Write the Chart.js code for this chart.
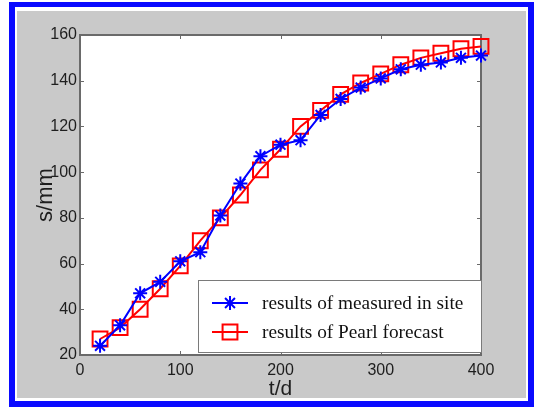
<!DOCTYPE html>
<html><head><meta charset="utf-8">
<script src="https://cdn.jsdelivr.net/npm/chart.js@4.4.1/dist/chart.umd.min.js"></script>
<style>html,body{margin:0;padding:0;background:#fff;overflow:hidden}canvas{display:block}</style>
</head><body>
<canvas id="c" width="534" height="407"></canvas>
<script>
const days = [20,40,60,80,100,120,140,160,180,200,220,240,260,280,300,320,340,360,380,400];
const measured = [24,33,47,52,61,65,81,95,107,112,114,125,132,137,141,145,147,148,150,151];
const pearl = [27,32,40,49,59,70,80,90,101,110,120,127,134,139,143,147,150,152,154,155];
const xTicks = [0,100,200,300,400];
const yTicks = [20,40,60,80,100,120,140,160];
const seriesNames = ['results of measured in site','results of Pearl forecast'];
const xTitle = 't/d';
const yTitle = 's/mm';

const AXIS = '#6a6a6a';
const TXT = '#1e1e1e';

const framePlugin = {
  id: 'frame',
  beforeDraw(chart) {
    const ctx = chart.ctx;
    ctx.save();
    ctx.fillStyle = '#ffffff';
    ctx.fillRect(0, 0, 534, 407);
    ctx.fillStyle = '#0a0aff';
    ctx.fillRect(9, 2, 525, 405);
    ctx.fillStyle = '#ffffff';
    ctx.fillRect(15, 7, 513, 394);
    ctx.fillStyle = '#c9c9c9';
    ctx.fillRect(17, 11, 509, 387);
    const a = chart.chartArea;
    ctx.fillStyle = '#ffffff';
    ctx.fillRect(a.left, a.top, a.right - a.left, a.bottom - a.top);
    ctx.restore();
  },
  beforeDatasetsDraw(chart) {
    const ctx = chart.ctx, a = chart.chartArea;
    const xs = chart.scales.x, ys = chart.scales.y;
    ctx.save();
    ctx.strokeStyle = AXIS;
    ctx.lineWidth = 1;
    ctx.beginPath();
    xTicks.forEach(v => {
      const p = Math.round(xs.getPixelForValue(v)) + 0.5;
      ctx.moveTo(p, a.bottom); ctx.lineTo(p, a.bottom - 4);
      ctx.moveTo(p, a.top); ctx.lineTo(p, a.top + 4);
    });
    yTicks.forEach(v => {
      const p = Math.round(ys.getPixelForValue(v)) + 0.5;
      ctx.moveTo(a.left, p); ctx.lineTo(a.left + 4, p);
      ctx.moveTo(a.right, p); ctx.lineTo(a.right - 4, p);
    });
    ctx.stroke();
    ctx.lineWidth = 2;
    ctx.strokeRect(a.left, a.top, a.right - a.left, a.bottom - a.top);
    ctx.restore();
  },
  afterDatasetsDraw(chart) {
    const ctx = chart.ctx;
    const bx = 198, by = 280, bw = 283, bh = 72;
    ctx.save();
    ctx.fillStyle = '#ffffff';
    ctx.fillRect(bx, by, bw, bh);
    ctx.strokeStyle = '#7a7a7a';
    ctx.lineWidth = 1;
    ctx.strokeRect(bx + 0.5, by + 0.5, bw, bh);
    const rows = [303, 332];
    chart.data.datasets.forEach((ds, i) => {
      const y = rows[i];
      ctx.strokeStyle = ds.borderColor;
      ctx.lineWidth = 2;
      ctx.beginPath();
      ctx.moveTo(212, y); ctx.lineTo(248, y);
      ctx.stroke();
      ctx.fillStyle = ds.pointBackgroundColor;
      ctx.strokeStyle = ds.borderColor;
      Chart.helpers.drawPoint(ctx, {pointStyle: ds.pointStyle, radius: ds.pointRadius, rotation: 0, borderWidth: 2}, 230, y);
      ctx.fillStyle = '#111111';
      ctx.font = '19.3px "Liberation Serif", "Times New Roman", serif';
      ctx.textBaseline = 'middle';
      ctx.textAlign = 'left';
      ctx.fillText(seriesNames[i], 262, y + 1);
    });
    ctx.restore();
  }
};

new Chart(document.getElementById('c'), {
  type: 'line',
  data: {
    datasets: [
      {
        label: seriesNames[0],
        data: days.map((d, i) => ({x: d, y: measured[i]})),
        borderColor: '#0000ff',
        backgroundColor: '#0000ff',
        pointBackgroundColor: '#0000ff',
        pointBorderColor: '#0000ff',
        borderWidth: 2,
        pointStyle: 'star',
        pointRadius: 7,
        pointBorderWidth: 2,
        tension: 0,
        clip: false
      },
      {
        label: seriesNames[1],
        data: days.map((d, i) => ({x: d, y: pearl[i]})),
        borderColor: '#ff0000',
        backgroundColor: 'rgba(0,0,0,0)',
        pointBackgroundColor: 'rgba(0,0,0,0)',
        pointBorderColor: '#ff0000',
        borderWidth: 2,
        pointStyle: 'rect',
        pointRadius: 10.5,
        pointBorderWidth: 2,
        tension: 0,
        clip: false
      }
    ]
  },
  options: {
    responsive: false,
    animation: false,
    devicePixelRatio: 1,
    layout: {padding: {left: 0, top: 35, right: 53, bottom: 0}},
    plugins: {legend: {display: false}, tooltip: {enabled: false}},
    scales: {
      x: {
        type: 'linear', min: 0, max: 400,
        afterBuildTicks(s) { s.ticks = xTicks.map(v => ({value: v})); },
        afterFit(s) { s.height = 52; },
        grid: {display: false, drawTicks: false},
        border: {display: false},
        ticks: {color: TXT, padding: 5.5, maxRotation: 0, font: {family: '"Liberation Sans", Arial, sans-serif', size: 16}},
        title: {display: true, text: xTitle, color: TXT, padding: {top: 0, bottom: 5}, font: {family: '"Liberation Sans", Arial, sans-serif', size: 21}}
      },
      y: {
        type: 'linear', min: 20, max: 160,
        afterBuildTicks(s) { s.ticks = yTicks.map(v => ({value: v})); },
        afterFit(s) { s.width = 80; },
        grid: {display: false, drawTicks: false},
        border: {display: false},
        ticks: {color: TXT, padding: 3, font: {family: '"Liberation Sans", Arial, sans-serif', size: 16}},
        title: {display: true, text: yTitle, color: TXT, padding: {top: 32.4, bottom: 0}, font: {family: '"Liberation Sans", Arial, sans-serif', size: 22}}
      }
    }
  },
  plugins: [framePlugin]
});
</script>
</body></html>
